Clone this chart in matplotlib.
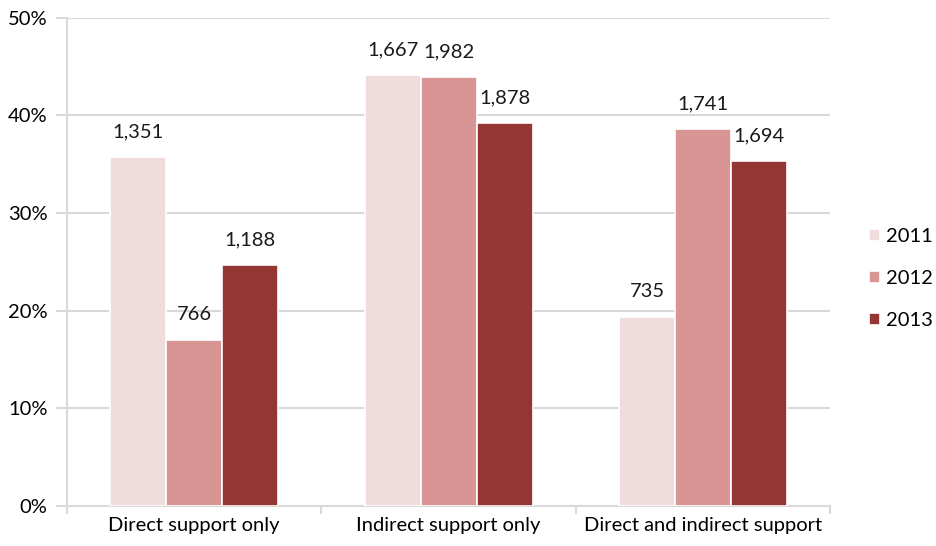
import numpy as np
import matplotlib
matplotlib.use("Agg")
import matplotlib.pyplot as plt
from matplotlib.ticker import FuncFormatter

plt.rcParams['font.family'] = ['Lato', 'DejaVu Sans']

categories = ["Direct support only", "Indirect support only", "Direct and indirect support"]
years = ["2011", "2012", "2013"]
# share of firms (%) per year
pct_2011 = [35.7, 44.1, 19.4]
pct_2012 = [17.0, 43.9, 38.6]
pct_2013 = [24.7, 39.2, 35.3]
# counts shown above bars
cnt_2011 = [1351, 1667, 735]
cnt_2012 = [766, 1982, 1741]
cnt_2013 = [1188, 1878, 1694]

colors = ["#F0DCDC", "#D99594", "#943634"]
grid_col = "#D9D9D9"
fs = 14.5

fig = plt.figure(figsize=(9.36, 5.46), dpi=100)
ax = fig.add_axes([0.0716, 0.0733, 0.8154, 0.894])

x = np.arange(len(categories))
w = 0.22
series = [(pct_2011, cnt_2011), (pct_2012, cnt_2012), (pct_2013, cnt_2013)]
for i, (vals, cnts) in enumerate(series):
    pos = x + (i - 1) * w
    ax.bar(pos, vals, width=w, color=colors[i], edgecolor="white", linewidth=1.2,
           label=years[i], zorder=3)
    for p, v, c in zip(pos, vals, cnts):
        ax.annotate(f"{c:,}", (p, v), xytext=(0, 12), textcoords="offset points",
                    ha="center", va="bottom", fontsize=fs, color="#1a1a1a")

ax.set_xlim(-0.5, 2.5)
ax.set_ylim(0, 50)
ax.set_yticks(np.arange(0, 51, 10))
ax.yaxis.set_major_formatter(FuncFormatter(lambda v, _: f"{v:.0f}%"))
ax.grid(axis="y", color=grid_col, linewidth=1.5, zorder=0)
ax.set_axisbelow(True)

ax.set_xticks(x)
ax.set_xticklabels(categories)
ax.set_xticks([-0.5, 0.5, 1.5, 2.5], minor=True)
ax.tick_params(axis="x", which="major", length=0, pad=8, labelsize=fs)
ax.tick_params(axis="x", which="minor", length=6, width=1.5, color=grid_col)
ax.tick_params(axis="y", length=8, width=1.5, color=grid_col, pad=6, labelsize=fs)

for s in ["top", "right"]:
    ax.spines[s].set_visible(False)
for s in ["left", "bottom"]:
    ax.spines[s].set_color(grid_col)
    ax.spines[s].set_linewidth(1.5)

fig.legend(loc="center left", bbox_to_anchor=(0.928, 0.49), frameon=False,
           borderpad=0, borderaxespad=0, fontsize=fs, handlelength=0.55,
           handleheight=0.55, handletextpad=0.3, labelspacing=1.25)

fig.savefig("out.png", dpi=100)
